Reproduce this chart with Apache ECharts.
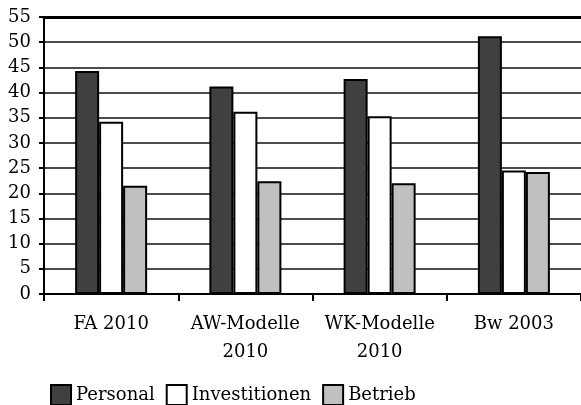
<!DOCTYPE html>
<html>
<head>
<meta charset="utf-8">
<script src="https://cdn.jsdelivr.net/npm/echarts@6/dist/echarts.min.js"></script>
<style>
body { margin: 0; background: #fff; }
#chart { width: 581px; height: 405px; }
</style>
</head>
<body>
<div id="chart"></div>
<script>
// categories and values
const categories = ['FA 2010', 'AW-Modelle\n2010', 'WK-Modelle\n2010', 'Bw 2003']
const personal = [44.3, 41.2, 42.7, 51.2]
const investitionen = [34.2, 36.2, 35.3, 24.5]
const betrieb = [21.5, 22.4, 22.0, 24.2]

const font = 'DejaVu Serif'

function bar(name, data, color) {
  return {
    name: name,
    type: 'bar',
    data: data,
    barGap: '0%',
    barWidth: 24,
    itemStyle: { color: color, borderColor: '#000', borderWidth: 2 }
  }
}

const chart = echarts.init(document.getElementById('chart'))
chart.setOption({
  animation: false,
  textStyle: { fontFamily: font },
  grid: { left: 44, top: 17, width: 541, height: 277 },
  legend: {
    left: 50,
    top: 384,
    padding: 0,
    itemWidth: 20,
    itemHeight: 20,
    itemGap: 11,
    icon: 'rect',
    textStyle: { fontFamily: font, fontSize: 18, color: '#000' },
    data: ['Personal', 'Investitionen', 'Betrieb']
  },
  xAxis: [
    {
      type: 'category',
      data: categories,
      axisLine: { lineStyle: { color: '#000', width: 2 } },
      axisTick: { show: true, interval: 0, length: 7, lineStyle: { color: '#000', width: 2 } },
      axisLabel: {
        interval: 0, hideOverlap: false, color: '#000',
        fontFamily: font, fontSize: 18, lineHeight: 28, margin: 16
      }
    },
    {
      type: 'category',
      position: 'top',
      data: categories,
      axisLine: { lineStyle: { color: '#000', width: 3 } },
      axisTick: { show: false },
      axisLabel: { show: false }
    }
  ],
  yAxis: {
    type: 'value',
    min: 0,
    max: 55,
    interval: 5,
    axisLine: { show: true, lineStyle: { color: '#000', width: 2 } },
    axisTick: { show: true, length: 5, lineStyle: { color: '#000', width: 2 } },
    axisLabel: { color: '#000', fontFamily: font, fontSize: 18, margin: 13 },
    splitLine: { lineStyle: { color: '#111', width: 1.5 } }
  },
  series: [
    bar('Personal', personal, '#404040'),
    bar('Investitionen', investitionen, '#ffffff'),
    bar('Betrieb', betrieb, '#c0c0c0')
  ]
})
</script>
</body>
</html>
